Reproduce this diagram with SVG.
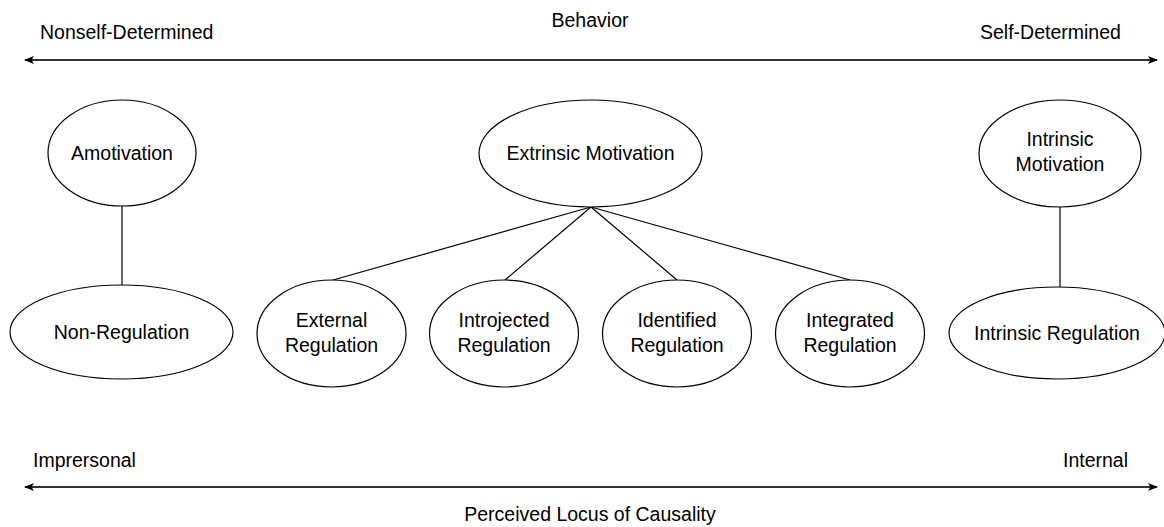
<svg xmlns="http://www.w3.org/2000/svg" width="1164" height="527" viewBox="0 0 1164 527">
  <style>
    text { font-family: "Liberation Sans", Arial, sans-serif; font-size: 19.5px; fill: #000; }
    .c { text-anchor: middle; }
    .node ellipse { fill: #fff; stroke: #000; stroke-width: 1.2; }
    .link { stroke: #000; stroke-width: 1.2; fill: none; }
    .axis { stroke: #333; stroke-width: 1.8; fill: none; }
  </style>
  <defs>
    <marker id="tip" viewBox="0 0 10 10" refX="9" refY="5" markerWidth="10" markerHeight="10" markerUnits="userSpaceOnUse" orient="auto-start-reverse">
      <path d="M0,1 L10,5 L0,9 L2.5,5 Z" fill="#000"/>
    </marker>
  </defs>

  <rect width="1164" height="527" fill="#fff"/>

  <!-- axes and their labels -->
  <g id="axes">
    <line class="axis" x1="25" y1="60" x2="1157" y2="60" marker-start="url(#tip)" marker-end="url(#tip)"/>
    <line class="axis" x1="25" y1="487" x2="1157" y2="487" marker-start="url(#tip)" marker-end="url(#tip)"/>
    <text class="c" x="590" y="27">Behavior</text>
    <text x="40" y="39">Nonself-Determined</text>
    <text x="980" y="39">Self-Determined</text>
    <text x="33" y="467">Imprersonal</text>
    <text x="1063" y="467">Internal</text>
    <text class="c" x="590" y="521">Perceived Locus of Causality</text>
  </g>

  <!-- connectors -->
  <g id="connectors">
    <line class="link" x1="122" y1="206" x2="122" y2="285"/>
    <line class="link" x1="1060" y1="207" x2="1060" y2="287"/>
    <line class="link" x1="591" y1="207" x2="333" y2="280"/>
    <line class="link" x1="591" y1="207" x2="505" y2="280"/>
    <line class="link" x1="591" y1="207" x2="677" y2="280"/>
    <line class="link" x1="591" y1="207" x2="850" y2="280"/>
  </g>

  <g id="amotivation" class="node">
    <ellipse cx="122" cy="153" rx="74" ry="53"/>
    <text class="c" x="122" y="160">Amotivation</text>
  </g>
  <g id="non-regulation" class="node">
    <ellipse cx="121.5" cy="332" rx="111.5" ry="47"/>
    <text class="c" x="121.5" y="339">Non-Regulation</text>
  </g>
  <g id="extrinsic-motivation" class="node">
    <ellipse cx="590.5" cy="153.5" rx="111.5" ry="53.5"/>
    <text class="c" x="590.5" y="160">Extrinsic Motivation</text>
  </g>
  <g id="external-regulation" class="node">
    <ellipse cx="331.5" cy="333.5" rx="74.5" ry="53.5"/>
    <text class="c" x="331.5" y="327">External</text>
    <text class="c" x="331.5" y="352">Regulation</text>
  </g>
  <g id="introjected-regulation" class="node">
    <ellipse cx="504" cy="333.5" rx="74.5" ry="53.5"/>
    <text class="c" x="504" y="327">Introjected</text>
    <text class="c" x="504" y="352">Regulation</text>
  </g>
  <g id="identified-regulation" class="node">
    <ellipse cx="677" cy="333.5" rx="74.5" ry="53.5"/>
    <text class="c" x="677" y="327">Identified</text>
    <text class="c" x="677" y="352">Regulation</text>
  </g>
  <g id="integrated-regulation" class="node">
    <ellipse cx="850" cy="333.5" rx="74.5" ry="53.5"/>
    <text class="c" x="850" y="327">Integrated</text>
    <text class="c" x="850" y="352">Regulation</text>
  </g>
  <g id="intrinsic-motivation" class="node">
    <ellipse cx="1060" cy="153.5" rx="81" ry="53.5"/>
    <text class="c" x="1060" y="146">Intrinsic</text>
    <text class="c" x="1060" y="171">Motivation</text>
  </g>
  <g id="intrinsic-regulation" class="node">
    <ellipse cx="1057" cy="333" rx="108" ry="46"/>
    <text class="c" x="1057" y="340">Intrinsic Regulation</text>
  </g>
</svg>
